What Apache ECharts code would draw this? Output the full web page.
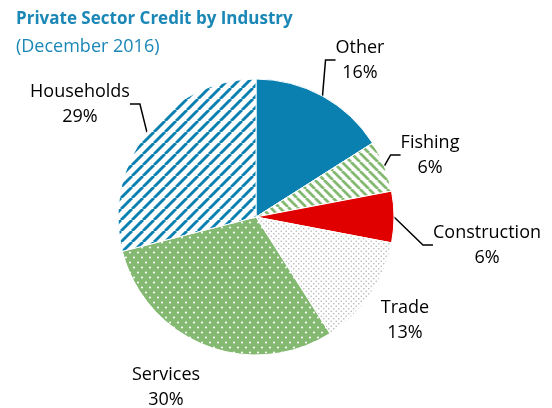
<!DOCTYPE html>
<html>
<head>
<meta charset="utf-8">
<script src="https://cdn.jsdelivr.net/npm/echarts@6/dist/echarts.min.js"></script>
<style>
  html, body { margin: 0; padding: 0; background: #fff; }
  #chart { width: 552px; height: 408px; }
</style>
</head>
<body>
<div id="chart"></div>
<script>
// data, clockwise from 12 o'clock
const categories = ['Other', 'Fishing', 'Construction', 'Trade', 'Services', 'Households'];
const shares = [16, 6, 6, 13, 30, 29];
// label centres (px) for each slice
const labelPos = [[360, 60], [430, 155], [487, 245], [405, 320], [166, 387], [80, 104]];
const showLine = [true, true, true, false, false, true];

const BLUE = '#0a80b1';
const GREEN = '#84b972';
const RED = '#e00000';

// small canvas tiles for the hatch / dot fills
function stripeTile(size, color, width, dir) {
  const c = document.createElement('canvas');
  c.width = size; c.height = size;
  const ctx = c.getContext('2d');
  ctx.fillStyle = '#fff';
  ctx.fillRect(0, 0, size, size);
  ctx.strokeStyle = color;
  ctx.lineWidth = width;
  ctx.beginPath();
  for (let k = -1; k <= 1; k++) {
    if (dir > 0) { // "/"
      ctx.moveTo(k * size, size);
      ctx.lineTo(k * size + size, 0);
    } else { // "\"
      ctx.moveTo(k * size, 0);
      ctx.lineTo(k * size + size, size);
    }
  }
  ctx.stroke();
  return { image: c, repeat: 'repeat' };
}

function dotTile(w, h, bg, color, r) {
  const c = document.createElement('canvas');
  c.width = w; c.height = h;
  const ctx = c.getContext('2d');
  ctx.fillStyle = bg;
  ctx.fillRect(0, 0, w, h);
  ctx.fillStyle = color;
  [[w / 4, h / 4], [w * 3 / 4, h * 3 / 4]].forEach(function (p) {
    ctx.beginPath();
    ctx.arc(p[0], p[1], r, 0, Math.PI * 2);
    ctx.fill();
  });
  return { image: c, repeat: 'repeat' };
}

const fills = [
  BLUE,
  stripeTile(9, GREEN, 2.8, -1),
  RED,
  dotTile(5, 5, '#fff', '#b4b4b4', 0.8),
  dotTile(8, 10, GREEN, '#fff', 1.1),
  stripeTile(11, BLUE, 2.9, 1)
];

const chart = echarts.init(document.getElementById('chart'));

const option = {
  animation: false,
  title: [
    {
      text: 'Private Sector Credit by Industry',
      left: 11, top: 6,
      textStyle: { fontFamily: 'Open Sans', fontSize: 17, fontWeight: 'bold', color: '#1a87b6' }
    },
    {
      text: '(December 2016)',
      left: 11, top: 33,
      textStyle: { fontFamily: 'Open Sans', fontSize: 18, fontWeight: 'normal', color: '#1a87b6' }
    }
  ],
  series: [
    {
      type: 'pie',
      center: [256, 217],
      radius: [0, 138],
      startAngle: 90,
      clockwise: true,
      itemStyle: { borderColor: '#fff', borderWidth: 1 },
      label: {
        show: true,
        position: 'outside',
        formatter: '{b}\n{d}%',
        fontFamily: 'Open Sans',
        fontSize: 18,
        lineHeight: 25,
        color: '#000',
        align: 'center'
      },
      labelLine: { show: true, length: 10, length2: 10, lineStyle: { color: '#000', width: 1.5 } },
      labelLayout: function (p) {
        const pos = labelPos[p.dataIndex];
        return { x: pos[0], y: pos[1], align: 'center', verticalAlign: 'middle' };
      },
      data: categories.map(function (name, i) {
        return {
          name: name,
          value: shares[i],
          itemStyle: { color: fills[i] },
          labelLine: { show: showLine[i] }
        };
      })
    }
  ]
};

chart.setOption(option);
</script>
</body>
</html>
